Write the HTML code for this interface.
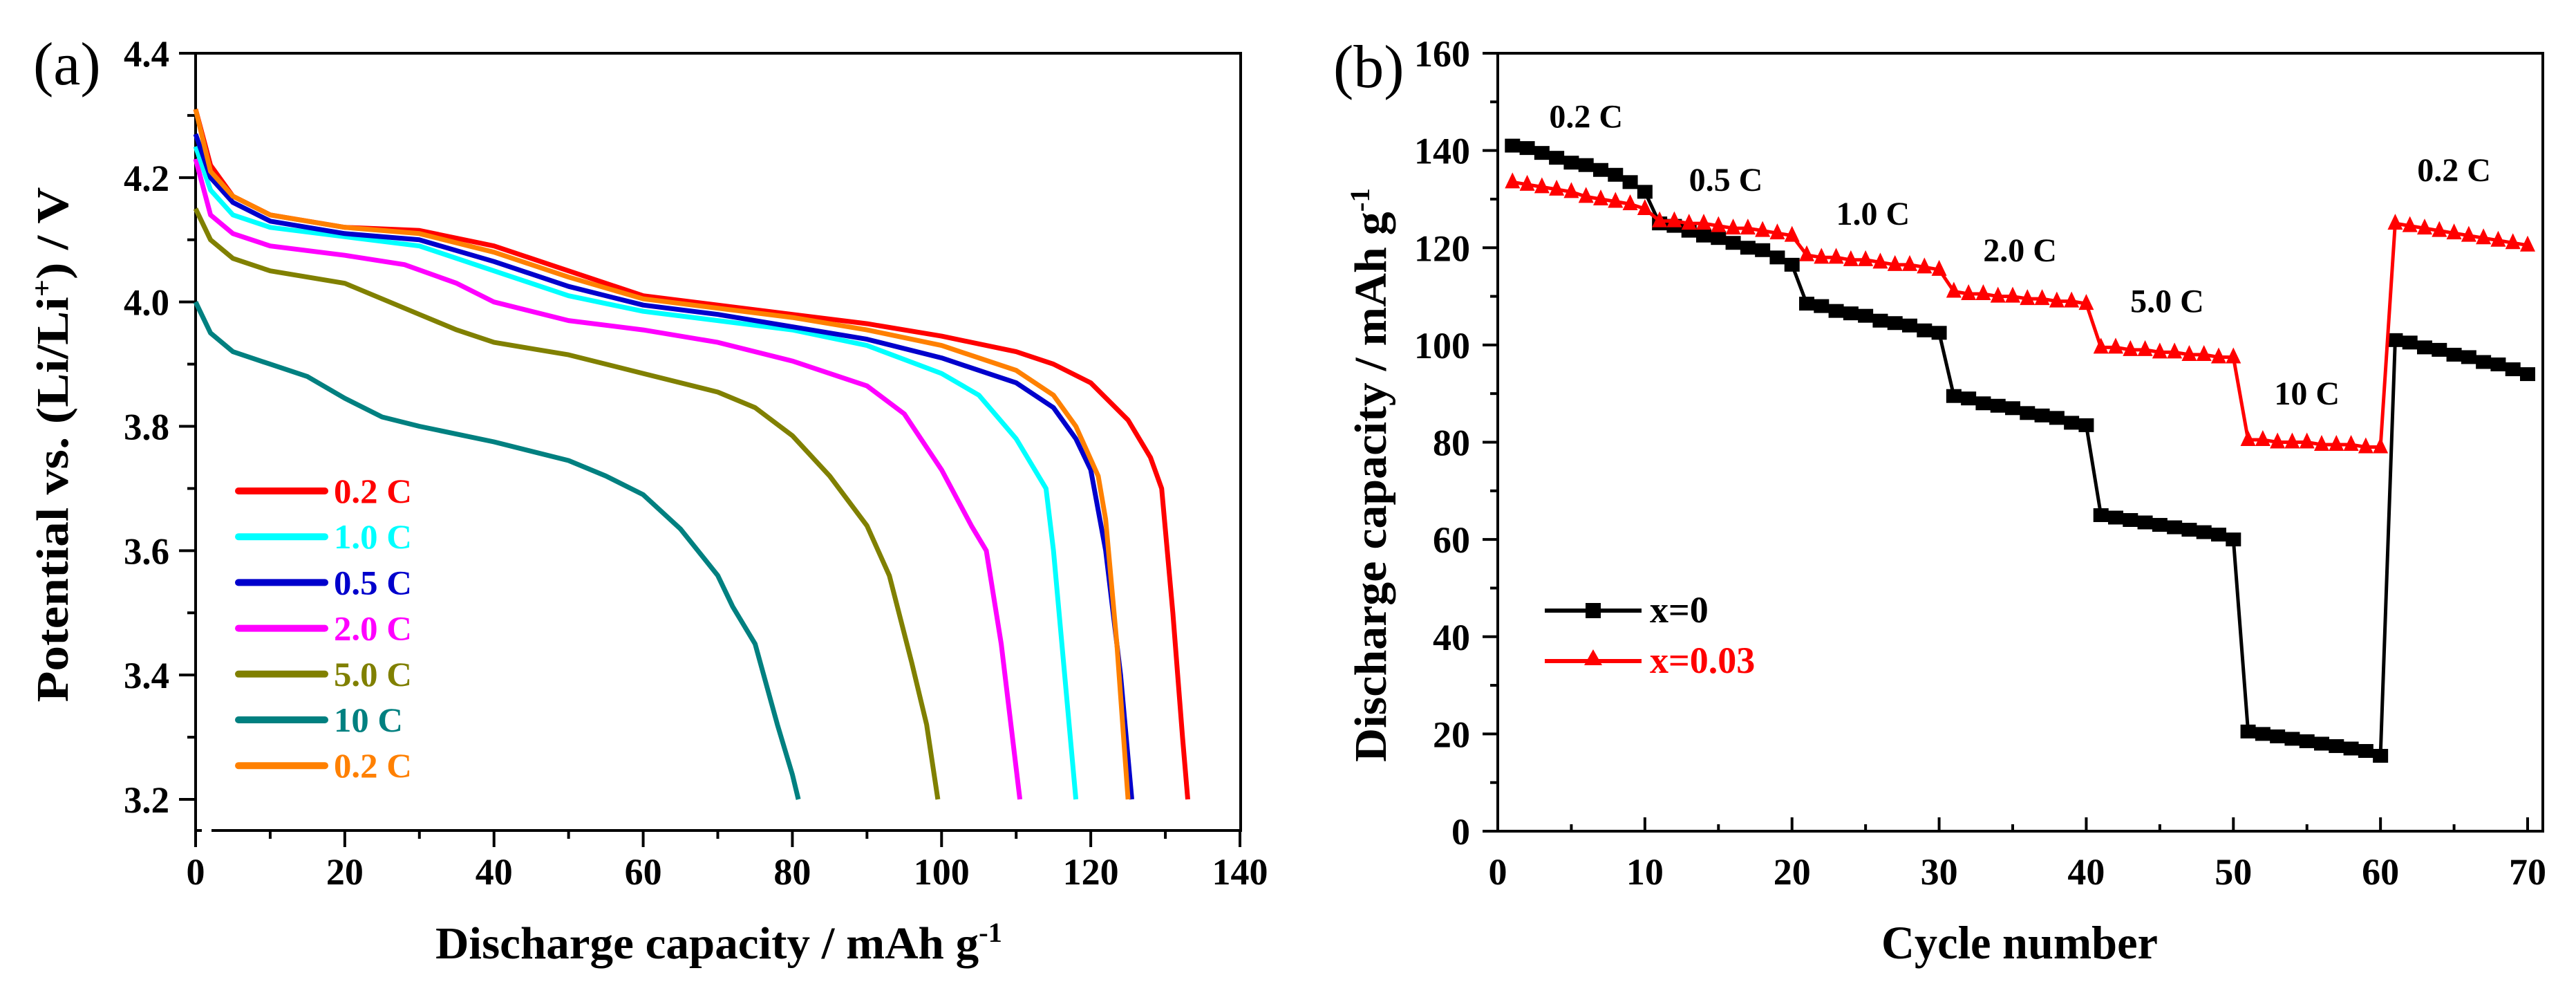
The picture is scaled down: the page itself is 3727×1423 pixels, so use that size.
<!DOCTYPE html>
<html><head><meta charset="utf-8"><style>
html,body{margin:0;padding:0;background:#fff;}
svg{display:block;}
text{font-family:"Liberation Serif",serif;}
</style></head><body>
<svg id="fig" width="3727" height="1423" viewBox="0 0 3727 1423" xmlns="http://www.w3.org/2000/svg">
<rect width="3727" height="1423" fill="#fff"/>
<g id="pa"></g>
<g id="pb"></g>
</svg>
<script>
// ---------- Panel (a) data ----------
const aSeriesNames = ["0.2 C","1.0 C","0.5 C","2.0 C","5.0 C","10 C","0.2 C"];
const aSeriesColors = ["#ff0000","#00ffff","#0000cc","#ff00ff","#808000","#008080","#ff8000"];
const aRed02X = [0,2,5,10,20,30,40,50,60,70,80,90,100,110,115,120,125,128,129.5,131,132.3,133];
const aRed02Y = [4.31,4.22,4.17,4.14,4.12,4.115,4.09,4.05,4.01,3.995,3.98,3.965,3.945,3.92,3.9,3.87,3.81,3.75,3.7,3.5,3.3,3.2];
const aCyan10X = [0,2,5,10,20,30,40,50,60,70,80,90,100,105,110,112,114,115,116.5,118];
const aCyan10Y = [4.25,4.18,4.14,4.12,4.105,4.09,4.05,4.01,3.985,3.97,3.955,3.93,3.885,3.85,3.78,3.74,3.7,3.6,3.4,3.2];
const aBlue05X = [0,2,5,10,20,30,40,50,60,70,80,90,100,110,115,118,120,122,124,125.5];
const aBlue05Y = [4.27,4.2,4.16,4.13,4.11,4.1,4.065,4.025,3.995,3.98,3.96,3.94,3.91,3.87,3.83,3.78,3.73,3.6,3.4,3.2];
const aMag20X = [0,2,5,10,20,28,35,40,50,60,70,80,90,95,100,104,106,108,109.5,110.5];
const aMag20Y = [4.23,4.14,4.11,4.09,4.075,4.06,4.03,4.0,3.97,3.955,3.935,3.905,3.865,3.82,3.73,3.64,3.6,3.45,3.3,3.2];
const aOlive50X = [0,2,5,10,20,30,35,40,50,60,70,75,80,85,90,93,96,98,99.5];
const aOlive50Y = [4.15,4.1,4.07,4.05,4.03,3.98,3.955,3.935,3.915,3.885,3.855,3.83,3.785,3.72,3.64,3.56,3.42,3.32,3.2];
const aTeal10X = [0,2,5,10,15,20,25,30,40,50,55,60,65,68,70,72,75,78,80,80.8];
const aTeal10Y = [4.0,3.95,3.92,3.9,3.88,3.845,3.815,3.8,3.775,3.745,3.72,3.69,3.635,3.59,3.56,3.51,3.45,3.32,3.24,3.2];
const aOrange02X = [0,2,5,10,20,30,40,50,60,70,80,90,100,110,115,118,121,122,123.5,125];
const aOrange02Y = [4.31,4.21,4.17,4.14,4.12,4.11,4.08,4.04,4.005,3.99,3.975,3.955,3.93,3.89,3.85,3.8,3.72,3.65,3.45,3.2];
const aXTicks = [0,20,40,60,80,100,120,140];
const aYTicks = [3.2,3.4,3.6,3.8,4.0,4.2,4.4];

// ---------- Panel (b) data ----------
const bCycles = [1,2,3,4,5,6,7,8,9,10,11,12,13,14,15,16,17,18,19,20,21,22,23,24,25,26,27,28,29,30,31,32,33,34,35,36,37,38,39,40,41,42,43,44,45,46,47,48,49,50,51,52,53,54,55,56,57,58,59,60,61,62,63,64,65,66,67,68,69,70];
const bX0 = [141,140.5,139.5,138.5,137.5,137,136,135,133.5,131.5,
 125,124.5,123.5,122.5,122,121,120,119.5,118,116.5,
 108.5,108,107,106.5,106,105,104.5,104,103,102.5,
 89.5,89,88,87.5,87,86,85.5,85,84,83.5,
 65,64.5,64,63.5,63,62.5,62,61.5,61,60,
 20.5,20,19.5,19,18.5,18,17.5,17,16.5,15.5,
 101,100.5,99.5,99,98,97.5,96.5,96,95,94];
const bX003 = [133.5,133,132.5,132,131.5,130.5,130,129.5,129,128,
 125.5,125.5,125,125,124.5,124,124,123.5,123,122.5,
 118.5,118,118,117.5,117.5,117,116.5,116.5,116,115.5,
 111,110.5,110.5,110,110,109.5,109.5,109,109,108.5,
 99.5,99.5,99,99,98.5,98.5,98,98,97.5,97.5,
 80.5,80.5,80,80,80,79.5,79.5,79.5,79,79,
 125,124.5,124,123.5,123,122.5,122,121.5,121,120.5];
const bXTicks = [0,10,20,30,40,50,60,70];
const bYTicks = [0,20,40,60,80,100,120,140,160];
const bRateLabels = ["0.2 C","0.5 C","1.0 C","2.0 C","5.0 C","10 C","0.2 C"];
const bRateCycle = [6,15.5,25.5,35.5,45.5,55,65];
const bRateValue = [147,134,127,119.5,109,90,136];

const NS="http://www.w3.org/2000/svg";
function mk(parent,tag,attrs,txt){const e=document.createElementNS(NS,tag);for(const k in attrs)e.setAttribute(k,attrs[k]);if(txt!==undefined)e.textContent=txt;parent.appendChild(e);return e;}

// ===== Panel a =====
const pa=document.getElementById('pa');
const aL=283,aR=1795,aT=77,aB=1201;
const ax=v=>aL+(v-0)/(140-0)*(1794-aL);
const ay=v=>1156-(v-3.2)/(4.4-3.2)*(1156-77);
let e;
e=mk(pa,'rect',{x:aL,y:aT,width:aR-aL,height:aB-aT,fill:'none',stroke:'#000','stroke-width':4});


// axis break gap
e=mk(pa,'rect',{x:292,y:aB-4,width:14,height:8,fill:'#fff'});


for(let v=0;v<=140;v+=10){const x=ax(v);const major=v%20===0;
 e=mk(pa,'line',{x1:x,y1:aB,x2:x,y2:aB+(major?24:12),stroke:'#000','stroke-width':4});
 
 }
aXTicks.forEach(v=>{e=mk(pa,'text',{x:ax(v),y:1279,'text-anchor':'middle','font-size':54,'font-weight':'bold'},String(v));
 
 });
for(let i=0;i<=12;i++){const v=3.2+i*0.1;const y=ay(v);const major=i%2===0;
 e=mk(pa,'line',{x1:aL,y1:y,x2:aL-(major?24:12),y2:y,stroke:'#000','stroke-width':4});
 
 }
aYTicks.forEach(v=>{e=mk(pa,'text',{x:245,y:ay(v)+19,'text-anchor':'end','font-size':54,'font-weight':'bold',textLength:66,lengthAdjust:'spacingAndGlyphs'},v.toFixed(1));
 
 });
e=mk(pa,'text',{x:1040,y:1386,'text-anchor':'middle','font-size':66,'font-weight':'bold',textLength:820,lengthAdjust:'spacingAndGlyphs'});


e.innerHTML='Discharge capacity / mAh g<tspan dy="-24" font-size="40">-1</tspan>';
e=mk(pa,'text',{transform:'translate(98,643) rotate(-90)','text-anchor':'middle','font-size':66,'font-weight':'bold',textLength:745,lengthAdjust:'spacingAndGlyphs'});


e.innerHTML='Potential vs. (Li/Li<tspan dy="-24" font-size="40">+</tspan><tspan dy="24">) / V</tspan>';
e=mk(pa,'text',{x:48,y:122,'font-size':88},'(a)');


const aSeriesX=[aRed02X,aCyan10X,aBlue05X,aMag20X,aOlive50X,aTeal10X,aOrange02X];
const aSeriesY=[aRed02Y,aCyan10Y,aBlue05Y,aMag20Y,aOlive50Y,aTeal10Y,aOrange02Y];
const drawOrder=[5,4,3,1,0,2,6];
drawOrder.forEach(i=>{const pts=aSeriesX[i].map((x,j)=>ax(x).toFixed(1)+','+ay(aSeriesY[i][j]).toFixed(1)).join(' ');
 e=mk(pa,'polyline',{points:pts,fill:'none',stroke:aSeriesColors[i],'stroke-width':7,'stroke-linejoin':'round'});
 
 });
aSeriesNames.forEach((n,i)=>{const y=710+i*66.2;
 const g=mk(pa,'g',{});
 
 
 mk(g,'line',{x1:345,y1:y,x2:470,y2:y,stroke:aSeriesColors[i],'stroke-width':10,'stroke-linecap':'round'});
 mk(g,'text',{x:483,y:y+17,'font-size':50,'font-weight':'bold',fill:aSeriesColors[i],textLength:(n==='10 C'?100:113),lengthAdjust:'spacingAndGlyphs'},n);});

// ===== Panel b =====
const pb=document.getElementById('pb');
const bL=2167,bR=3679,bT=77,bB=1202;
const bx=v=>bL+v/70*(3657-bL);
const by=v=>bB-v/160*(bB-bT);
e=mk(pb,'rect',{x:bL,y:bT,width:bR-bL,height:bB-bT,fill:'none',stroke:'#000','stroke-width':4});


for(let v=0;v<=70;v+=5){const x=bx(v);const major=v%10===0;
 e=mk(pb,'line',{x1:x,y1:bB,x2:x,y2:bB-(major?20:10),stroke:'#000','stroke-width':4});
 
 }
bXTicks.forEach(v=>{e=mk(pb,'text',{x:bx(v),y:1279,'text-anchor':'middle','font-size':54,'font-weight':'bold'},String(v));
 
 });
for(let v=0;v<=160;v+=10){const y=by(v);const major=v%20===0;
 e=mk(pb,'line',{x1:bL,y1:y,x2:bL-(major?22:11),y2:y,stroke:'#000','stroke-width':4});
 
 }
bYTicks.forEach(v=>{e=mk(pb,'text',{x:2127,y:by(v)+19,'text-anchor':'end','font-size':54,'font-weight':'bold'},String(v));
 
 });
e=mk(pb,'text',{x:2922,y:1386,'text-anchor':'middle','font-size':68,'font-weight':'bold',textLength:400,lengthAdjust:'spacingAndGlyphs'},'Cycle number');


e=mk(pb,'text',{transform:'translate(2005,687) rotate(-90)','text-anchor':'middle','font-size':66,'font-weight':'bold',textLength:830,lengthAdjust:'spacingAndGlyphs'});


e.innerHTML='Discharge capacity / mAh g<tspan dy="-24" font-size="40">-1</tspan>';
e=mk(pb,'text',{x:1929,y:126,'font-size':88},'(b)');


// series x=0
let pts=bCycles.map((c,i)=>bx(c).toFixed(1)+','+by(bX0[i]).toFixed(1)).join(' ');
e=mk(pb,'polyline',{points:pts,fill:'none',stroke:'#000','stroke-width':5});


bCycles.forEach((c,i)=>{e=mk(pb,'rect',{x:bx(c)-11,y:by(bX0[i])-10,width:22,height:20,fill:'#000'});
 
 });
pts=bCycles.map((c,i)=>bx(c).toFixed(1)+','+by(bX003[i]).toFixed(1)).join(' ');
e=mk(pb,'polyline',{points:pts,fill:'none',stroke:'#ff0000','stroke-width':5});


bCycles.forEach((c,i)=>{const x=bx(c),y=by(bX003[i]);
 e=mk(pb,'polygon',{points:`${x},${y-14} ${x-11},${y+9} ${x+11},${y+9}`,fill:'#ff0000'});
 
 });
bRateLabels.forEach((t,i)=>{e=mk(pb,'text',{x:bx(bRateCycle[i]),y:by(bRateValue[i])+16,'text-anchor':'middle','font-size':48,'font-weight':'bold'},t);
 
 });
// legend b
let g=mk(pb,'g',{});


mk(g,'line',{x1:2235,y1:883,x2:2375,y2:883,stroke:'#000','stroke-width':6});
mk(g,'rect',{x:2294,y:872,width:22,height:22,fill:'#000'});
mk(g,'text',{x:2387,y:900,'font-size':54,'font-weight':'bold'},'x=0');
g=mk(pb,'g',{});


mk(g,'line',{x1:2235,y1:956,x2:2375,y2:956,stroke:'#ff0000','stroke-width':6});
mk(g,'polygon',{points:'2305,939 2292,962 2318,962',fill:'#ff0000'});
mk(g,'text',{x:2387,y:973,'font-size':54,'font-weight':'bold',fill:'#ff0000'},'x=0.03');
</script>
</body></html>
